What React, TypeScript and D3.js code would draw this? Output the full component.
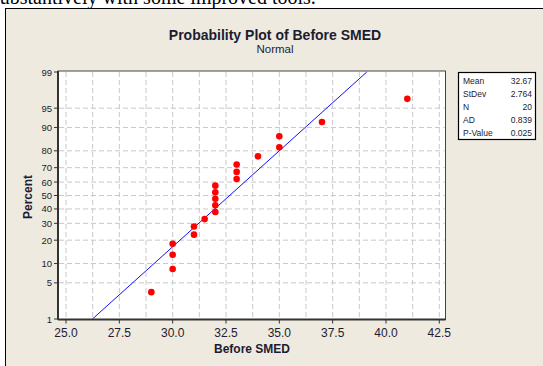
import React from 'react'
import * as d3 from 'd3'

// observed data (Before SMED) and plotted percent (median ranks)
const beforeSmed = [29, 30, 30, 30, 31, 31, 31.5, 32, 32, 32, 32, 32, 33, 33, 33, 34, 35, 35, 37, 41]
const percents = [3.43, 8.33, 13.24, 18.14, 23.04, 27.94, 32.84, 37.75, 42.65, 47.55, 52.45, 57.35, 62.25, 67.16, 72.06, 76.96, 81.86, 86.76, 91.67, 96.57]

// fitted normal line endpoints [x, percent]
const fitLine: [number, number][] = [[26.24, 1], [39.1, 99]]

const xTicks = [25, 27.5, 30, 32.5, 35, 37.5, 40, 42.5]
const xGrid = d3.range(25, 42.6, 1.25)
const yTicks = [1, 5, 10, 20, 30, 40, 50, 60, 70, 80, 90, 95, 99]

const statLabels = ['Mean', 'StDev', 'N', 'AD', 'P-Value']
const statValues = ['32.67', '2.764', '20', '0.839', '0.025']

// inverse normal cdf (Acklam)
function probit(p: number) {
  const a = [-3.969683028665376e1, 2.209460984245205e2, -2.759285104469687e2, 1.38357751867269e2, -3.066479806614716e1, 2.506628277459239]
  const b = [-5.447609879822406e1, 1.615858368580409e2, -1.556989798598866e2, 6.680131188771972e1, -1.328068155288572e1]
  const c = [-7.784894002430293e-3, -3.223964580411365e-1, -2.400758277161838, -2.549732539343734, 4.374664141464968, 2.938163982698783]
  const d = [7.784695709041462e-3, 3.224671290700398e-1, 2.445134137142996, 3.754408661907416]
  const pl = 0.02425
  if (p < pl) {
    const q = Math.sqrt(-2 * Math.log(p))
    return (((((c[0] * q + c[1]) * q + c[2]) * q + c[3]) * q + c[4]) * q + c[5]) / ((((d[0] * q + d[1]) * q + d[2]) * q + d[3]) * q + 1)
  }
  if (p > 1 - pl) {
    const q = Math.sqrt(-2 * Math.log(1 - p))
    return -(((((c[0] * q + c[1]) * q + c[2]) * q + c[3]) * q + c[4]) * q + c[5]) / ((((d[0] * q + d[1]) * q + d[2]) * q + d[3]) * q + 1)
  }
  const q = p - 0.5
  const r = q * q
  return ((((((a[0] * r + a[1]) * r + a[2]) * r + a[3]) * r + a[4]) * r + a[5]) * q) / (((((b[0] * r + b[1]) * r + b[2]) * r + b[3]) * r + b[4]) * r + 1)
}

const W = 543
const H = 366
const font = '"Liberation Sans", Arial, sans-serif'
const ink = '#1c1c30'

export default function App() {
  const x = d3.scaleLinear().domain([25, 42.5]).range([66, 439.3])
  const z = d3.scaleLinear().domain([probit(0.01), probit(0.99)]).range([319, 72])
  const y = (p: number) => z(probit(p / 100))

  const left = 58
  const right = 445.5
  const top = 71
  const bottom = 319.5

  const line = d3.line<[number, number]>().x((d) => x(d[0])).y((d) => y(d[1]))

  return (
    <svg width={W} height={H} style={{ position: 'absolute', left: 0, top: 0 }}>
      <rect x={0} y={0} width={W} height={H} fill="#fff" />
      {/* bottom of the document line above the figure, clipped like the reference */}
      <text x={-8} y={4} fontFamily='"Liberation Serif", serif' fontSize={20} fill="#000">
        substantively with some improved tools.
      </text>
      <rect x={5.5} y={8.5} width={560} height={380} fill="#eeeae0" stroke="#000" />

      <text x={275} y={40} textAnchor="middle" fontFamily={font} fontWeight="bold" fontSize={14} fill={ink}>
        Probability Plot of Before SMED
      </text>
      <text x={275} y={53} textAnchor="middle" fontFamily={font} fontSize={11.5} fill={ink}>
        Normal
      </text>

      <rect x={left} y={top} width={right - left} height={bottom - top} fill="#fff" stroke="#444" />

      {xGrid.map((v) => (
        <line key={'xg' + v} x1={x(v)} x2={x(v)} y1={top + 1} y2={bottom - 1} stroke="#c8c8c8" strokeDasharray="5,3" />
      ))}
      {yTicks.filter((p) => p > 1 && p < 99).map((p) => (
        <line key={'yg' + p} x1={left + 1} x2={right - 1} y1={y(p)} y2={y(p)} stroke="#c8c8c8" strokeDasharray="5,3" />
      ))}

      <path d={line(fitLine) || ''} fill="none" stroke="#1010ff" strokeWidth={1} />

      {beforeSmed.map((v, i) => (
        <circle key={'pt' + i} cx={x(v)} cy={y(percents[i])} r={3.3} fill="#ff0000" />
      ))}

      <line x1={left} x2={left} y1={top} y2={bottom} stroke="#333" strokeWidth={2} />
      <line x1={left} x2={right} y1={bottom} y2={bottom} stroke="#333" strokeWidth={2} />

      {xTicks.map((v) => (
        <g key={'xt' + v}>
          <line x1={x(v)} x2={x(v)} y1={bottom} y2={bottom + 4} stroke="#333" />
          <text x={x(v)} y={337} textAnchor="middle" fontFamily={font} fontSize={12} fill={ink}>
            {v.toFixed(1)}
          </text>
        </g>
      ))}
      {yTicks.map((p) => (
        <g key={'yt' + p}>
          <line x1={left - 4} x2={left} y1={y(p)} y2={y(p)} stroke="#333" />
          <text x={52} y={y(p) + 3.5} textAnchor="end" fontFamily={font} fontSize={9.5} fill={ink}>
            {p}
          </text>
        </g>
      ))}

      <text x={252} y={353} textAnchor="middle" fontFamily={font} fontWeight="bold" fontSize={12} fill={ink}>
        Before SMED
      </text>
      <text transform="translate(32,197) rotate(-90)" textAnchor="middle" fontFamily={font} fontWeight="bold" fontSize={12} fill={ink}>
        Percent
      </text>

      <rect x={458.5} y={72.5} width={77} height={67} fill="#fff" stroke="#000" strokeWidth={1.2} />
      {statLabels.map((s, i) => (
        <g key={'st' + s}>
          <text x={463} y={84 + i * 13} fontFamily={font} fontSize={8.5} fill={ink}>
            {s}
          </text>
          <text x={532} y={84 + i * 13} textAnchor="end" fontFamily={font} fontSize={8.5} fill={ink}>
            {statValues[i]}
          </text>
        </g>
      ))}
    </svg>
  )
}
